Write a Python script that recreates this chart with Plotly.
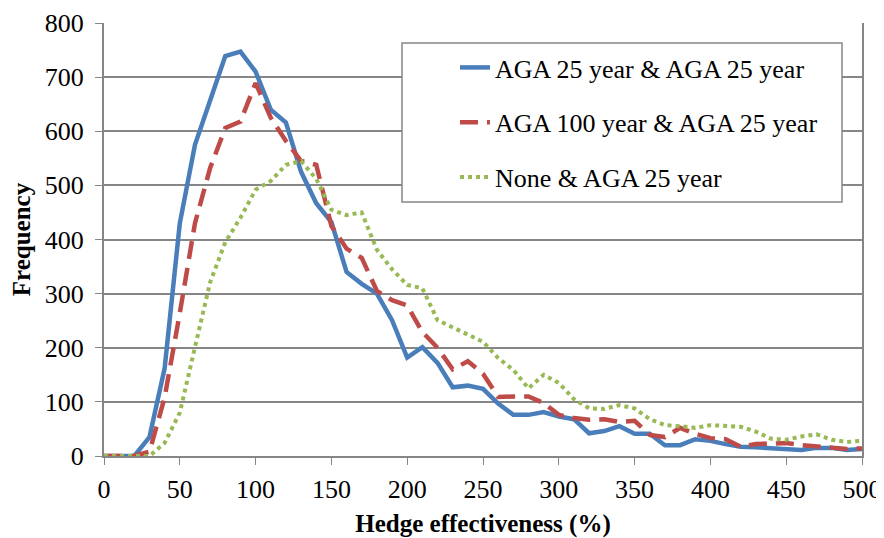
import plotly.graph_objects as go

# hedge effectiveness bins (%)
effectiveness = list(range(0, 510, 10))

aga25_aga25 = [0, 0, 0, 35, 162, 430, 575, 657, 739, 747,
               710, 640, 616, 525, 467, 432, 340, 318, 300, 251,
               182, 201, 172, 127, 130, 124, 97, 76, 76, 81,
               73, 68, 42, 46, 55, 41, 41, 20, 20, 31,
               28, 22, 17, 16, 15, 13, 11, 15, 15, 11,
               13]

aga100_aga25 = [0, 0, 0, 8, 108, 264, 430, 532, 606, 618,
                689, 625, 582, 545, 538, 425, 383, 366, 305, 288,
                278, 229, 200, 160, 175, 152, 109, 110, 110, 98,
                76, 70, 67, 68, 63, 65, 39, 35, 52, 41,
                33, 31, 17, 22, 24, 24, 20, 17, 15, 13,
                14]

none_aga25 = [0, 0, 0, 0, 24, 80, 201, 321, 395, 440,
              492, 508, 538, 545, 512, 455, 445, 450, 381, 345,
              316, 310, 251, 238, 224, 211, 181, 159, 125, 150,
              135, 105, 88, 87, 94, 88, 68, 57, 55, 52,
              57, 55, 54, 45, 32, 30, 36, 40, 30, 26,
              28]

FONT = "Times New Roman, Liberation Serif, serif"

fig = go.Figure()
fig.add_trace(go.Scatter(x=effectiveness, y=aga25_aga25, mode='lines',
                         name='AGA 25 year & AGA 25 year', legendgroup='a',
                         line=dict(color='#4A7EBB', width=4.5)))
fig.add_trace(go.Scatter(x=effectiveness, y=aga100_aga25, mode='lines',
                         name='AGA 100 year & AGA 25 year', legendgroup='b',
                         line=dict(color='#BE4B48', width=4.5, dash='18px,9px')))
fig.add_trace(go.Scatter(x=effectiveness, y=none_aga25, mode='lines',
                         name='None & AGA 25 year', legendgroup='c',
                         line=dict(color='#98B954', width=4, dash='dot')))

# legend frame
fig.add_shape(type='rect', xref='paper', yref='paper',
              x0=(402 - 104) / 758, x1=(842 - 104) / 758,
              y0=(456 - 202) / 433, y1=(456 - 43) / 433,
              line=dict(color='#868686', width=1.5), fillcolor='white', layer='above')

# page body adds an 8px margin, so the figure is 8px smaller and shifted
fig.update_layout(
    width=876, height=530,
    margin=dict(l=96, r=22, t=15, b=82),
    plot_bgcolor='white', paper_bgcolor='white',
    font=dict(family=FONT, size=26, color='black'),
    showlegend=True,
    legend=dict(x=(455 - 104) / 758, y=(456 - 44) / 433, xanchor='left', yanchor='top',
                bgcolor='rgba(0,0,0,0)', borderwidth=0, tracegroupgap=18,
                font=dict(family=FONT, size=26)),
)
fig.update_xaxes(range=[0, 500], dtick=50, showgrid=False, zeroline=False, automargin=False,
                 showline=True, linecolor='#868686', linewidth=2,
                 ticks='outside', ticklen=7, tickcolor='#868686', ticklabelstandoff=2,
                 title=dict(text='<b>Hedge effectiveness (%)</b>', font=dict(size=25), standoff=12))
fig.update_yaxes(range=[0, 800], dtick=100, showgrid=True, gridcolor='#868686', gridwidth=1.5,
                 zeroline=False, showline=True, mirror=True, linecolor='#868686', linewidth=2,
                 automargin=False,
                 ticks='outside', ticklen=7, tickcolor='#868686', ticklabelstandoff=6,
                 title=dict(text='<b>Frequency</b>', font=dict(size=25), standoff=8))

fig.write_html("out.html")
